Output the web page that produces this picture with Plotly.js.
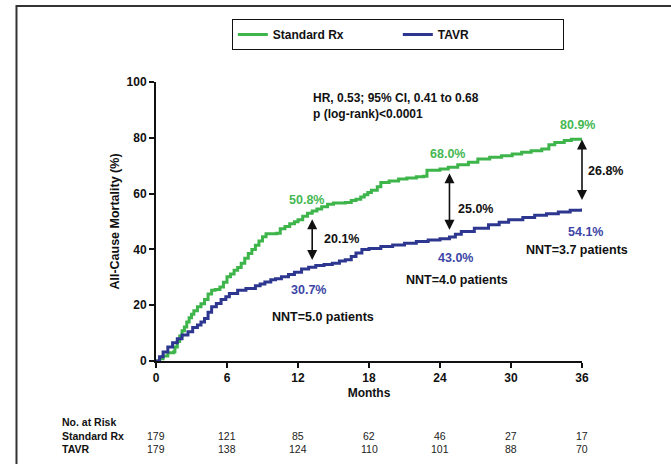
<!DOCTYPE html>
<html>
<head>
<meta charset="utf-8">
<script src="https://cdn.plot.ly/plotly-3.0.1.min.js"></script>
<style>html,body{margin:0;padding:0;background:#fff;}#chart{width:671px;height:464px;}</style>
</head>
<body>
<div id="chart"></div>
<script>
// ---- data ----
var stdMonths = [0,0.3,0.6,1.0,1.5,1.6,1.8,2.0,2.2,2.4,2.6,2.8,3.0,3.2,3.5,3.8,4.1,4.4,4.7,5.0,5.4,5.7,6.0,6.3,6.6,6.9,7.2,7.5,7.8,8.1,8.4,8.7,9.0,9.3,10.2,10.5,10.9,11.3,11.7,12.0,12.4,12.8,13.2,13.6,14.0,14.5,15.0,16.0,16.5,16.9,17.3,17.6,17.9,18.2,18.7,19.0,19.7,20.5,21.2,22.0,22.6,22.9,24.0,24.7,25.5,26.4,27.2,28.2,29.2,30.1,30.9,31.7,32.6,33.2,33.7,34.5,35.1,36.0];
var stdMort   = [0,0.8,1.8,3.0,3.3,5.0,7.0,9.0,10.8,12.2,14.0,15.5,16.8,18,19.4,20.5,22,24,25.4,25.6,26.5,28.2,30.2,31.2,32.5,33.5,35,36.8,38.5,40,41.5,43,44.5,45.6,45.8,47.4,48.2,49.2,49.9,50.6,51.9,53,53.8,54.5,55.3,56.2,56.6,56.8,57.5,58,58.8,59.6,60.4,61.2,62.5,64,64.5,65.2,65.6,66,66.2,68.4,68.8,69.4,70.3,71.2,72.4,73,73.6,74.2,74.8,75.4,76,77.5,78.3,79,79.5,79.8];
var tavrMonths = [0,0.3,0.6,1.0,1.4,1.8,2.2,2.7,3.1,3.5,3.8,4.1,4.4,4.7,5.1,5.5,5.9,6.2,6.9,7.6,8.4,8.8,9.2,9.7,10.1,10.6,11.2,11.7,12.3,12.9,13.5,14.2,14.9,15.5,16.0,16.5,16.9,17.4,18.0,19.0,20.0,21.0,22.0,23.0,24.0,24.8,25.3,25.8,26.9,28.1,29.0,29.8,31.0,32.0,33.0,34.0,35.0,36.0];
var tavrMort   = [0,1.5,3.2,5,6.5,8,9.3,10.5,12,12.9,14,15.2,17.5,19.4,20.6,22,23,24.2,25.4,26,27,27.6,28.3,29.1,29.5,30.2,31,31.8,33,33.6,34.2,34.6,35,35.8,36.3,37.5,38.7,40,40.3,41,41.6,42.2,42.8,43.4,43.8,44.4,45.4,46.4,47.6,48.8,49.7,50.6,51.4,52.2,52.8,53.4,54,54.7];

var riskMonths = [0,6,12,18,24,30,36];
var riskStd    = [179,121,85,62,46,27,17];
var riskTavr   = [179,138,124,110,101,88,70];

var xTicks = [0,6,12,18,24,30,36];
var yTicks = [0,20,40,60,80,100];

// point labels: [month, value, text]
var stdLabels  = [[12.7,57.7,'50.8%'],[24.6,74.2,'68.0%'],[35.6,84.6,'80.9%']];
var tavrLabels = [[12.9,25.4,'30.7%'],[25.3,36.9,'43.0%'],[36.3,46.2,'54.1%']];
var diffArrows = [[13.2,51.3,36.2],[24.8,67.8,47.0],[36.0,79.9,57.7]];
var diffLabels = [[15.65,43.9,'20.1%'],[27.0,54.5,'25.0%'],[38.0,68.1,'26.8%']];
var nntLabels  = [[14.1,15.8,'NNT=5.0 patients'],[25.4,29.0,'NNT=4.0 patients'],[35.6,39.8,'NNT=3.7 patients']];
var statsText  = ['HR, 0.53; 95% CI, 0.41 to 0.68','p (log-rank)<0.0001'];

// ---- styles ----
var FONT = 'Arial, "Liberation Sans", sans-serif';
var GREEN = '#3db54a', BLUE = '#2e3790';
var GREEN_T = '#45b853', BLUE_T = '#3c46a6';
var XMAX = 36;

var traces = [
  {x: stdMonths, y: stdMort, name: 'Standard Rx', type: 'scatter', mode: 'lines',
   line: {color: GREEN, width: 3, shape: 'hv'}, cliponaxis: false},
  {x: tavrMonths, y: tavrMort, name: 'TAVR', type: 'scatter', mode: 'lines',
   line: {color: BLUE, width: 3, shape: 'hv'}, cliponaxis: false}
];

var ann = [];
// x given in months; placed with paper x so labels right of the axis end are still drawn
function txt(x, y, t, color, size, extra) {
  var a = {x: x / XMAX, y: y, xref: 'paper', yref: 'y', xanchor: 'center', yanchor: 'middle',
           text: t, showarrow: false,
           font: {family: FONT, size: size, color: color, weight: 'bold'}};
  for (var k in extra) a[k] = extra[k];
  ann.push(a);
}
stdLabels.forEach(function(d){ txt(d[0], d[1], d[2], GREEN_T, 12.5); });
tavrLabels.forEach(function(d){ txt(d[0], d[1], d[2], BLUE_T, 12.5); });
diffLabels.forEach(function(d){ txt(d[0], d[1], d[2], '#111', 12.5); });
nntLabels.forEach(function(d){ txt(d[0], d[1], d[2], '#111', 12.5); });
txt(13.1, 94.3, statsText[0], '#111', 12, {xanchor: 'left'});
txt(13.1, 88.6, statsText[1], '#111', 12, {xanchor: 'left'});
diffArrows.forEach(function(d){
  ann.push({x: d[0], y: d[2], ax: d[0], ay: d[1], xref: 'x', yref: 'y', axref: 'x', ayref: 'y',
            text: '', showarrow: true, arrowhead: 2, arrowside: 'end+start', arrowsize: 1.25,
            arrowwidth: 1.6, arrowcolor: '#111', standoff: 0, startstandoff: 0});
});

// number at risk table
var rowY = [-0.2186, -0.2688, -0.3154];
var rowLabels = ['No. at Risk', 'Standard Rx', 'TAVR'];
rowLabels.forEach(function(t, i){
  ann.push({x: -0.2265, y: rowY[i], xref: 'paper', yref: 'paper', text: t, showarrow: false,
            xanchor: 'left', yanchor: 'middle',
            font: {family: FONT, size: 10.5, color: '#111', weight: 'bold'}});
});
riskMonths.forEach(function(m, i){
  ann.push({x: m, y: rowY[1], xref: 'x', yref: 'paper', text: String(riskStd[i]), showarrow: false,
            xanchor: 'center', yanchor: 'middle', font: {family: FONT, size: 10.5, color: '#222'}});
  ann.push({x: m, y: rowY[2], xref: 'x', yref: 'paper', text: String(riskTavr[i]), showarrow: false,
            xanchor: 'center', yanchor: 'middle', font: {family: FONT, size: 10.5, color: '#222'}});
});

var layout = {
  width: 671, height: 464,
  margin: {l: 156, r: 89, t: 82, b: 103},
  paper_bgcolor: '#fff', plot_bgcolor: '#fff',
  font: {family: FONT, color: '#111'},
  showlegend: true,
  legend: {orientation: 'h', x: 0.178, xanchor: 'left', y: 1.2258, yanchor: 'top',
           bordercolor: '#111', borderwidth: 1, bgcolor: '#fff',
           font: {family: FONT, size: 12, color: '#111', weight: 'bold'},
           entrywidth: 120, entrywidthmode: 'pixels', itemwidth: 30},
  xaxis: {range: [0, XMAX], tickvals: xTicks, ticktext: xTicks.map(String), showgrid: false, zeroline: false,
          showline: true, linecolor: '#111', linewidth: 2, ticks: 'outside', ticklen: 5, tickwidth: 2,
          tickcolor: '#111', tickfont: {family: FONT, size: 12, color: '#111', weight: 'bold'},
          title: {text: 'Months', standoff: 4, font: {family: FONT, size: 12, color: '#111', weight: 'bold'}}},
  yaxis: {range: [0, 100], tickvals: yTicks, ticktext: yTicks.map(String), showgrid: false, zeroline: false,
          showline: true, linecolor: '#111', linewidth: 2, ticks: 'outside', ticklen: 5, tickwidth: 2,
          tickcolor: '#111', tickfont: {family: FONT, size: 12, color: '#111', weight: 'bold'},
          title: {text: 'All-Cause Mortality (%)', standoff: 4,
                  font: {family: FONT, size: 12.5, color: '#111', weight: 'bold'}}},
  annotations: ann,
  shapes: [{type: 'rect', xref: 'paper', yref: 'paper', x0: -0.3275, x1: 1.3, y0: -0.45, y1: 1.2724,
            line: {color: '#333', width: 2}, fillcolor: 'rgba(0,0,0,0)', layer: 'below'}]
};

Plotly.newPlot('chart', traces, layout, {displayModeBar: false, staticPlot: true});
</script>
</body>
</html>
